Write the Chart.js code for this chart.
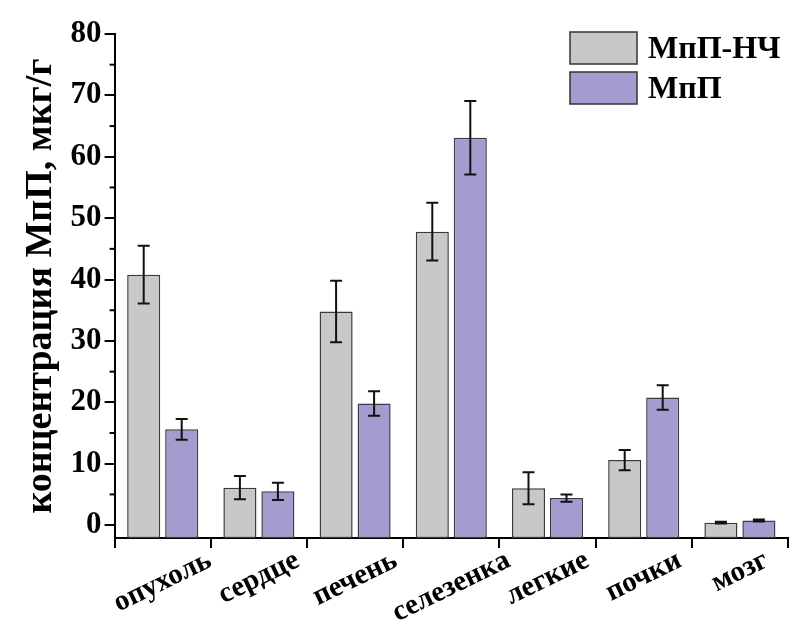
<!DOCTYPE html>
<html>
<head>
<meta charset="utf-8">
<script src="https://cdn.jsdelivr.net/npm/chart.js@4/dist/chart.umd.min.js"></script>
<style>
  body { margin: 0; background: #fff; }
  #wrap { width: 792px; height: 625px; }
</style>
</head>
<body>
<div id="wrap"><canvas id="chart" width="792" height="625"></canvas></div>
<script>
const categories = ["опухоль", "сердце", "печень", "селезенка", "легкие", "почки", "мозг"];
const seriesLabels = ["МпП-НЧ", "МпП"];
const nanoValues = [40.8, 6.1, 34.8, 47.8, 6.0, 10.6, 0.4];
const nanoErrors = [4.7, 1.9, 5.0, 4.7, 2.6, 1.65, 0.15];
const freeValues = [15.6, 5.5, 19.8, 63.1, 4.4, 20.8, 0.75];
const freeErrors = [1.7, 1.4, 2.0, 6.0, 0.6, 2.0, 0.15];
const yMin = -2.1;
const yMax = 80;
const yStep = 10;

const serif = '"Liberation Serif", "Times New Roman", serif';

// error bars drawn on top of each bar
const errorBarPlugin = {
  id: "errorBars",
  afterDatasetsDraw(chart) {
    const ctx = chart.ctx;
    const y = chart.scales.y;
    chart.data.datasets.forEach((ds, di) => {
      const meta = chart.getDatasetMeta(di);
      meta.data.forEach((bar, i) => {
        const v = ds.data[i];
        const e = ds.errors[i];
        const yTop = y.getPixelForValue(v + e);
        const yBot = y.getPixelForValue(v - e);
        ctx.save();
        ctx.strokeStyle = "#111";
        ctx.lineWidth = 2;
        ctx.beginPath();
        ctx.moveTo(bar.x, yTop);
        ctx.lineTo(bar.x, yBot);
        ctx.moveTo(bar.x - 6, yTop);
        ctx.lineTo(bar.x + 6, yTop);
        ctx.moveTo(bar.x - 6, yBot);
        ctx.lineTo(bar.x + 6, yBot);
        ctx.stroke();
        ctx.restore();
      });
    });
  },
};

// minor y ticks, rotated x labels, legend inside the plot
const decorPlugin = {
  id: "decor",
  afterDraw(chart) {
    const ctx = chart.ctx;
    const area = chart.chartArea;
    const x = chart.scales.x;
    const y = chart.scales.y;

    ctx.save();
    ctx.strokeStyle = "#000";
    ctx.lineWidth = 2;
    const ticks = y.ticks;
    for (let i = 0; i < ticks.length - 1; i++) {
      const mid = (ticks[i].value + ticks[i + 1].value) / 2;
      const py = y.getPixelForValue(mid);
      ctx.beginPath();
      ctx.moveTo(area.left - 5, py);
      ctx.lineTo(area.left, py);
      ctx.stroke();
    }
    ctx.restore();

    const angle = (-26 * Math.PI) / 180;
    ctx.save();
    ctx.fillStyle = "#000";
    ctx.font = "bold 29px " + serif;
    ctx.textAlign = "center";
    ctx.textBaseline = "middle";
    categories.forEach((label, i) => {
      const cx = x.getPixelForValue(i);
      const w = ctx.measureText(label).width;
      const cy = area.bottom + 21 + (w / 2) * Math.sin(-angle);
      ctx.save();
      ctx.translate(cx, cy);
      ctx.rotate(angle);
      ctx.fillText(label, 0, 0);
      ctx.restore();
    });
    ctx.restore();

    ctx.save();
    ctx.font = "bold 32px " + serif;
    ctx.textBaseline = "middle";
    chart.data.datasets.forEach((ds, di) => {
      const bx = area.right - 218;
      const by = area.top - 2 + di * 40;
      ctx.fillStyle = ds.backgroundColor;
      ctx.fillRect(bx, by, 67, 32);
      ctx.strokeStyle = "#333";
      ctx.lineWidth = 1.5;
      ctx.strokeRect(bx, by, 67, 32);
      ctx.fillStyle = "#000";
      ctx.fillText(ds.label, bx + 78, by + 18);
    });
    ctx.restore();
  },
};

new Chart(document.getElementById("chart"), {
  type: "bar",
  data: {
    labels: categories,
    datasets: [
      {
        label: seriesLabels[0],
        data: nanoValues,
        errors: nanoErrors,
        backgroundColor: "#c8c8c8",
        borderColor: "#3a3a3a",
        borderWidth: 1.5,
        borderSkipped: false,
        base: yMin,
      },
      {
        label: seriesLabels[1],
        data: freeValues,
        errors: freeErrors,
        backgroundColor: "#a49ccf",
        borderColor: "#3a3a4a",
        borderWidth: 1.5,
        borderSkipped: false,
        base: yMin,
      },
    ],
  },
  options: {
    responsive: false,
    animation: false,
    categoryPercentage: 0.79,
    barPercentage: 0.87,
    layout: { padding: { left: 14, top: 34, right: 4, bottom: 77 } },
    plugins: {
      legend: { display: false },
      tooltip: { enabled: false },
    },
    scales: {
      x: {
        grid: {
          display: true,
          offset: true,
          drawOnChartArea: false,
          drawTicks: true,
          tickLength: 10,
          color: "#000",
          lineWidth: 2,
        },
        border: { display: true, color: "#000", width: 2 },
        ticks: { display: false },
      },
      y: {
        min: yMin,
        max: yMax,
        grid: {
          drawOnChartArea: false,
          drawTicks: true,
          tickLength: 10,
          color: "#000",
          lineWidth: 2,
        },
        border: { display: true, color: "#000", width: 2 },
        ticks: {
          stepSize: yStep,
          includeBounds: false,
          color: "#000",
          padding: 3,
          font: { family: serif, size: 31, weight: "bold" },
        },
        title: {
          display: true,
          text: "концентрация МпП, мкг/г",
          color: "#000",
          padding: { top: 4, bottom: 4 },
          font: { family: serif, size: 38, weight: "bold" },
        },
      },
    },
  },
  plugins: [errorBarPlugin, decorPlugin],
});
</script>
</body>
</html>
